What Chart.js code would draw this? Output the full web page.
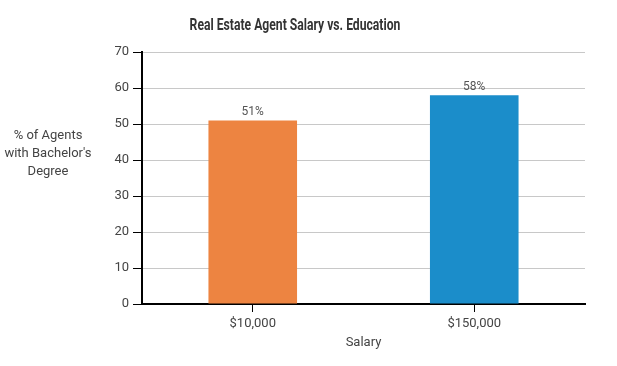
<!DOCTYPE html>
<html><head><meta charset="utf-8">
<script src="https://cdn.jsdelivr.net/npm/chart.js@4"></script>
<style>html,body{margin:0;padding:0;background:#fff}#w{width:617px;height:366px}</style>
</head><body><div id="w"><canvas id="c"></canvas></div>
<script>
const categories = ["$10,000", "$150,000"];
const values = [51, 58];
const labels = ["51%", "58%"];
const barColors = ["#ED8441", "#1B8DCA"];
const yTitleLines = ["% of Agents", "with Bachelor's", "Degree"];
const chartTitle = "Real Estate Agent Salary vs. Education";
const xTitle = "Salary";

const extras = {
  id: 'extras',
  afterDatasetsDraw(chart) {
    const ctx = chart.ctx;
    const meta = chart.getDatasetMeta(0);
    ctx.save();
    ctx.font = '12px Roboto';
    ctx.fillStyle = '#555';
    ctx.textAlign = 'center';
    ctx.textBaseline = 'bottom';
    meta.data.forEach((bar, i) => ctx.fillText(labels[i], bar.x, bar.y - 2));
    ctx.font = '13px Roboto';
    ctx.fillStyle = '#444';
    ctx.textBaseline = 'middle';
    const cy = (chart.scales.y.getPixelForValue(40) + chart.scales.y.getPixelForValue(50)) / 2 + 12;
    yTitleLines.forEach((t, i) => ctx.fillText(t, 48, cy + (i - 1) * 18));
    // condensed-looking title
    ctx.save();
    ctx.translate(295, 26);
    ctx.scale(0.76, 1);
    ctx.font = 'bold 16px Roboto';
    ctx.fillStyle = '#333';
    ctx.fillText(chartTitle, 0, 0);
    ctx.restore();
    ctx.restore();
  }
};

new Chart(document.getElementById('c'), {
  type: 'bar',
  data: { labels: categories, datasets: [{ data: values, backgroundColor: barColors, barPercentage: 0.4, categoryPercentage: 1.0 }] },
  options: {
    responsive: true, maintainAspectRatio: false, animation: false,
    layout: { padding: { left: 0, right: 32, top: 52, bottom: 15 } },
    plugins: {
      legend: { display: false }, tooltip: { enabled: false },
      title: { display: false }
    },
    scales: {
      y: {
        min: 0, max: 70,
        ticks: { stepSize: 10, color: '#444', font: { family: 'Roboto', size: 13 }, padding: 4 },
        grid: { color: '#c8c8c8', tickColor: '#000', tickLength: 9, lineWidth: 1 },
        border: { color: '#000', width: 2 },
        afterFit(s) { s.width = 142; }
      },
      x: {
        ticks: { color: '#444', font: { family: 'Roboto', size: 13 }, padding: 4 },
        grid: { display: true, drawOnChartArea: false, offset: false, tickColor: '#000', tickLength: 8, color: '#000' },
        border: { color: '#000', width: 2 },
        title: { display: true, text: xTitle, color: '#444', font: { family: 'Roboto', size: 13 }, padding: { top: 0, bottom: 0 } },
        afterFit(s) { s.height = 47; }
      }
    }
  },
  plugins: [extras]
});
</script></body></html>
